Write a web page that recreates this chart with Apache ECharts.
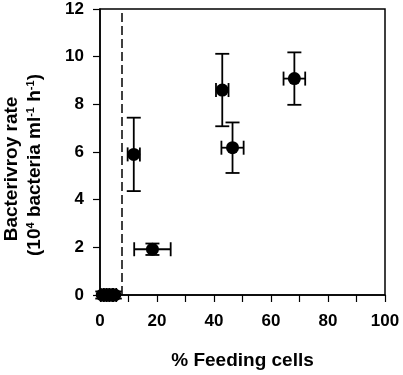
<!DOCTYPE html>
<html>
<head>
<meta charset="utf-8">
<script src="https://cdn.jsdelivr.net/npm/echarts@6/dist/echarts.min.js"></script>
<style>
  html, body { margin: 0; padding: 0; background: #fff; }
  #chart { width: 403px; height: 375px; }
</style>
</head>
<body>
<div id="chart"></div>
<script>
  // % feeding cells (x) and bacterivory rate (y), with error half-widths
  const feedingPct = [11.85, 18.4, 42.9, 46.5, 68.2, 0.8, 1.8, 2.8, 3.8, 5.2]
  const grazingRate = [5.9, 1.92, 8.6, 6.18, 9.08, 0, 0, 0, 0, 0]
  const feedingErr = [2.15, 6.4, 2.2, 3.9, 3.8, 0.5, 0.5, 0.5, 0.5, 0.5]
  const rateErr = [1.54, 0.24, 1.52, 1.06, 1.1, 0.15, 0.15, 0.15, 0.15, 0.15]
  // threshold line
  const thresholdX = 7.6

  const font = 'Liberation Sans, Arial, sans-serif'

  const points = feedingPct.map((x, i) => [x, grazingRate[i], feedingErr[i], rateErr[i]])

  const chart = echarts.init(document.getElementById('chart'))

  // error bars drawn via custom series so they go through the axis scales
  const errorBars = (params, api) => {
    const x = api.value(0)
    const y = api.value(1)
    const ex = api.value(2)
    const ey = api.value(3)
    const c = api.coord([x, y])
    const l = api.coord([x - ex, y])
    const r = api.coord([x + ex, y])
    const t = api.coord([x, y + ey])
    const b = api.coord([x, y - ey])
    const cap = 7
    const style = { stroke: '#000', lineWidth: 1.8 }
    return {
      type: 'group',
      children: [
        { type: 'line', shape: { x1: l[0], y1: c[1], x2: r[0], y2: c[1] }, style },
        { type: 'line', shape: { x1: l[0], y1: c[1] - cap, x2: l[0], y2: c[1] + cap }, style },
        { type: 'line', shape: { x1: r[0], y1: c[1] - cap, x2: r[0], y2: c[1] + cap }, style },
        { type: 'line', shape: { x1: c[0], y1: t[1], x2: c[0], y2: b[1] }, style },
        { type: 'line', shape: { x1: c[0] - cap, y1: t[1], x2: c[0] + cap, y2: t[1] }, style },
        { type: 'line', shape: { x1: c[0] - cap, y1: b[1], x2: c[0] + cap, y2: b[1] }, style }
      ]
    }
  }

  chart.setOption({
    animation: false,
    grid: {
      left: 100,
      right: 18,
      top: 9,
      bottom: 80,
      show: true,
      borderColor: '#000',
      borderWidth: 1.5
    },
    xAxis: {
      type: 'value',
      min: 0,
      max: 100,
      interval: 20,
      name: '% Feeding cells',
      nameLocation: 'middle',
      nameGap: 56,
      nameTextStyle: { fontFamily: font, fontWeight: 'bold', fontSize: 19, color: '#000' },
      axisLine: { lineStyle: { color: '#000', width: 1.5 } },
      axisTick: { length: 7, lineStyle: { color: '#000', width: 1.2 } },
      minorTick: { show: true, splitNumber: 2, length: 7, lineStyle: { color: '#000', width: 1.2 } },
      axisLabel: { margin: 18, fontFamily: font, fontWeight: 'bold', fontSize: 17, color: '#000' },
      splitLine: { show: false }
    },
    yAxis: {
      type: 'value',
      min: 0,
      max: 12,
      interval: 2,
      axisLine: { lineStyle: { color: '#000', width: 1.5 } },
      axisTick: { length: 7, lineStyle: { color: '#000', width: 1.2 } },
      axisLabel: { margin: 16, fontFamily: font, fontWeight: 'bold', fontSize: 17, color: '#000' },
      splitLine: { show: false }
    },
    graphic: [
      {
        type: 'text',
        x: 12,
        y: 169,
        rotation: Math.PI / 2,
        style: {
          text: 'Bacterivroy rate',
          font: 'bold 19px ' + font,
          fill: '#000',
          align: 'center',
          verticalAlign: 'middle'
        }
      },
      {
        type: 'text',
        x: 35,
        y: 165,
        rotation: Math.PI / 2,
        style: {
          text: '(10{s|4} bacteria ml{s|-1} h{s|-1})',
          font: 'bold 19px ' + font,
          fill: '#000',
          align: 'center',
          verticalAlign: 'middle',
          rich: {
            s: { font: 'bold 11px ' + font, fill: '#000', verticalAlign: 'top', padding: [0, 0, 8, 0] }
          }
        }
      }
    ],
    series: [
      {
        type: 'custom',
        renderItem: errorBars,
        data: points,
        encode: { x: 0, y: 1 },
        z: 2
      },
      {
        type: 'scatter',
        data: points.map((p) => [p[0], p[1]]),
        symbol: 'circle',
        symbolSize: 13,
        itemStyle: { color: '#000', opacity: 1 },
        z: 3,
        markLine: {
          silent: true,
          symbol: 'none',
          label: { show: false },
          lineStyle: { color: '#000', width: 1.5, type: [9, 4] },
          data: [{ xAxis: thresholdX }]
        }
      }
    ]
  })
</script>
</body>
</html>
